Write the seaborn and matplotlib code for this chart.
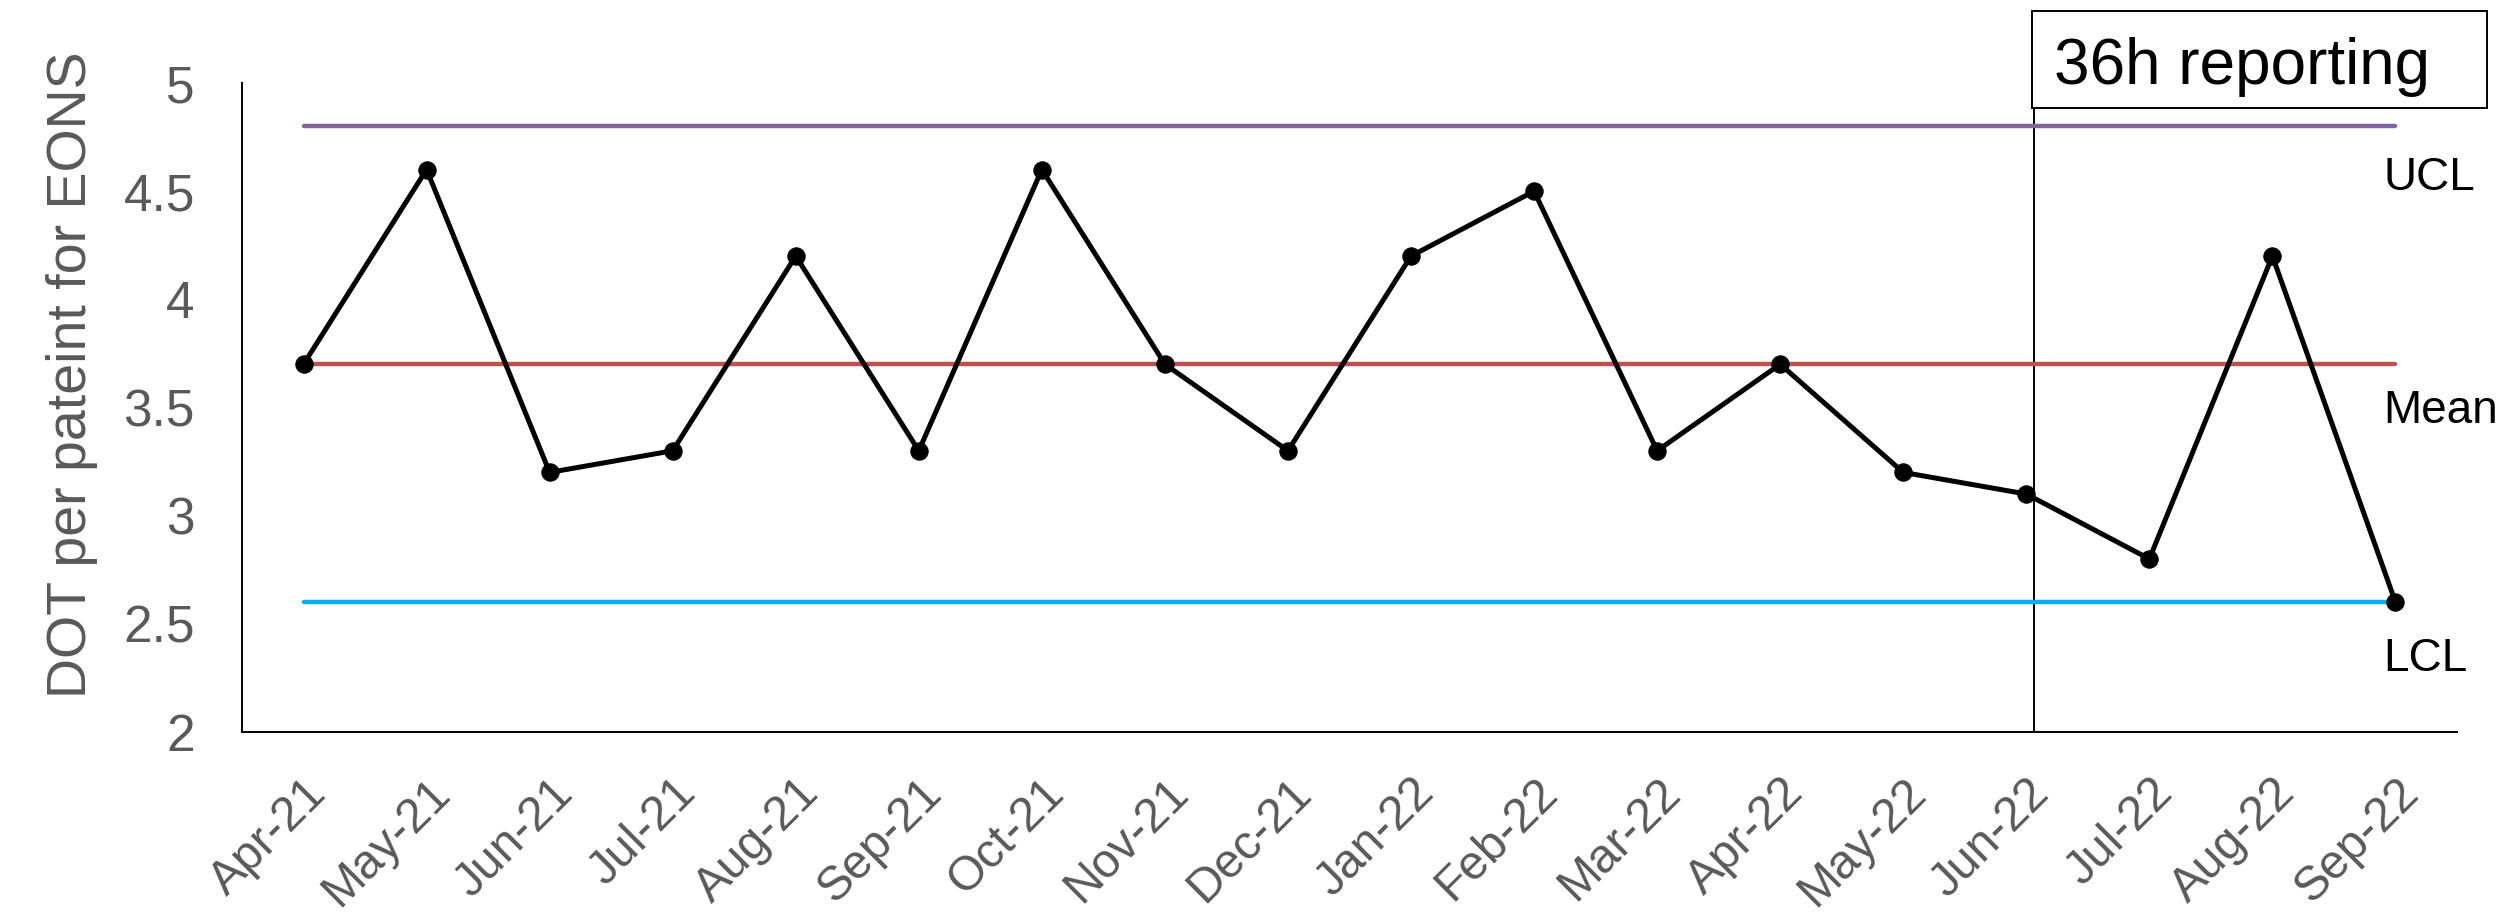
import matplotlib
matplotlib.use("Agg")
import matplotlib.pyplot as plt
import matplotlib.transforms as mtransforms
import seaborn as sns
import pandas as pd
import numpy as np
from matplotlib.patches import Rectangle

months = ["Apr-21", "May-21", "Jun-21", "Jul-21", "Aug-21", "Sep-21", "Oct-21",
          "Nov-21", "Dec-21", "Jan-22", "Feb-22", "Mar-22", "Apr-22", "May-22",
          "Jun-22", "Jul-22", "Aug-22", "Sep-22"]
dot_values = [3.7, 4.6, 3.2, 3.3, 4.2, 3.3, 4.6, 3.7, 3.3, 4.2, 4.5, 3.3, 3.7,
              3.2, 3.1, 2.8, 4.2, 2.6]
ucl = 4.8
mean = 3.7
lcl = 2.6
limit_names = ["UCL", "Mean", "LCL"]
yticks = [2, 2.5, 3, 3.5, 4, 4.5, 5]
ytick_labels = ["2", "2.5", "3", "3.5", "4", "4.5", "5"]
change_month = "Jun-22"
change_label = "36h reporting"
ylabel = "DOT per pateint for EONS"

sns.set_theme(style="white")
plt.rcParams["font.family"] = ["Liberation Sans", "DejaVu Sans"]

W, H = 2500, 915
fig = plt.figure(figsize=(25, 9.15), dpi=100)
ax = fig.add_axes([242 / W, 1 - 732 / H, (2457 - 242) / W, (732 - 83) / H])

idx = np.arange(len(months))
df = pd.DataFrame({"idx": idx, "value": dot_values})

# control lines
for val, col in zip([ucl, mean, lcl], ["#8064A2", "#C0504D", "#00B0F0"]):
    lim_df = pd.DataFrame({"idx": [idx[0], idx[-1]], "value": [val, val]})
    sns.lineplot(data=lim_df, x="idx", y="value", ax=ax, color=col, lw=3.2,
                 solid_capstyle="round", zorder=2)

sns.lineplot(data=df, x="idx", y="value", ax=ax, color="black", lw=3.6,
             marker="o", markersize=12.5, markeredgecolor="black",
             markerfacecolor="black", zorder=3)

# vertical change line
cx = months.index(change_month) + 0.06
ax.plot([cx, cx], [2, 4.885], color="black", lw=1.4, zorder=1)

# limit labels
for name, yb in zip(limit_names, [4.506, 3.429, 2.282]):
    ax.text(16.9, yb, name, fontsize=33, color="black", va="baseline",
            ha="left", clip_on=False)

ax.set_xlim(-0.5, len(months) - 0.5)
ax.set_ylim(2, 5)
ax.set_yticks(yticks)
ax.set_yticklabels(ytick_labels)
ax.set_xticks(idx)
ax.set_xticklabels(months, rotation=45, ha="right", va="center",
                   rotation_mode="anchor")
ax.tick_params(axis="y", length=0, pad=34, labelsize=37, labelcolor="#595959")
ax.tick_params(axis="x", length=0, pad=39, labelsize=34.5, labelcolor="#595959")
offset = mtransforms.ScaledTranslation(0.16, 0, fig.dpi_scale_trans)
for lab in ax.get_xticklabels():
    lab.set_transform(lab.get_transform() + offset)
ax.set_xlabel("")
ax.set_ylabel(ylabel, fontsize=40, color="#595959")
ax.yaxis.set_label_coords(-0.065, 0.55)

for s in ["top", "right"]:
    ax.spines[s].set_visible(False)
for s in ["left", "bottom"]:
    ax.spines[s].set_color("black")
    ax.spines[s].set_linewidth(1.4)

# annotation box
fig.patches.append(Rectangle((2032 / W, 1 - 108 / H), 455 / W, 97 / H,
                             transform=fig.transFigure, fill=False,
                             edgecolor="black", lw=1.4))
fig.text(2054 / W, 1 - 84 / H, change_label, fontsize=46, color="black",
         va="baseline", ha="left")

fig.savefig("out.png", dpi=100)
